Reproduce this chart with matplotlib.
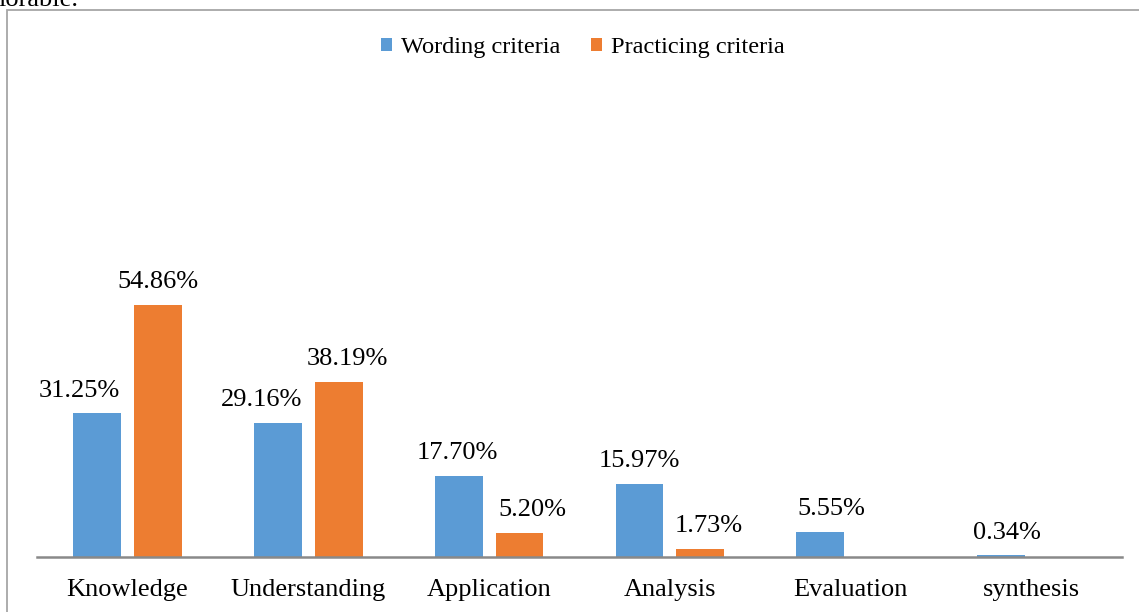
import numpy as np
import matplotlib.pyplot as plt
from matplotlib.patches import Rectangle

categories = ["Knowledge", "Understanding", "Application", "Analysis", "Evaluation", "synthesis"]
wording = [31.25, 29.16, 17.70, 15.97, 5.55, 0.34]
practicing = [54.86, 38.19, 5.20, 1.73, 0.0, 0.0]
series_names = ["Wording criteria", "Practicing criteria"]

# label nudges (points) as in the original layout
wording_dx = [-13, -12, -1, 0, 8, 4]
practicing_dx = [0, 6, 9, 6, 0, 0]

blue = "#5B9BD5"
orange = "#ED7D31"
serif = ["Liberation Serif", "DejaVu Serif"]

W, H = 1139, 612
fig = plt.figure(figsize=(W / 100, H / 100), dpi=100)

# outer chart frame (cut off at right/bottom)
fig.patches.append(Rectangle((7 / W, -0.1), 1.2, 1 - 10 / H + 0.1, transform=fig.transFigure,
                             fill=False, edgecolor="#a6a6a6", linewidth=1.3))
# tail of the preceding sentence, clipped by the page crop
fig.text(-2 / W, 1 - 6 / H, "lorable.", fontsize=19, family=serif, va="baseline", ha="left")

ax = fig.add_axes([37 / W, (H - 557) / H, 1085 / W, 459.4 / H])
x = np.arange(len(categories))
bw = 0.265
off = 0.168
b1 = ax.bar(x - off, wording, bw, color=blue, label=series_names[0])
b2 = ax.bar(x + off, practicing, bw, color=orange, label=series_names[1])

for i, v in enumerate(wording):
    ax.annotate(f"{v:.2f}%", (x[i] - off, v), xytext=(wording_dx[i], 12),
                textcoords="offset points", ha="center", va="baseline",
                fontsize=19, family=serif)
for i, v in enumerate(practicing):
    if v > 0:
        ax.annotate(f"{v:.2f}%", (x[i] + off, v), xytext=(practicing_dx[i], 12),
                    textcoords="offset points", ha="center", va="baseline",
                    fontsize=19, family=serif)

ax.set_xlim(-0.5, len(categories) - 0.5)
ax.set_ylim(0, 100)
for s in ["top", "right", "left"]:
    ax.spines[s].set_visible(False)
ax.spines["bottom"].set_color("#898989")
ax.spines["bottom"].set_linewidth(1.8)
ax.set_yticks([])
ax.set_xticks(x)
ax.set_xticklabels(categories, fontsize=19, family=serif)
ax.tick_params(axis="x", length=0, pad=16)

leg = fig.legend(handles=[b1, b2], loc="center", bbox_to_anchor=(583 / W, 1 - 48 / H),
                 ncol=2, frameon=False, prop={"family": serif, "size": 17.6},
                 handlelength=0.45, handleheight=0.45, handletextpad=0.37, columnspacing=1.25)

fig.savefig("out.png", dpi=100)
